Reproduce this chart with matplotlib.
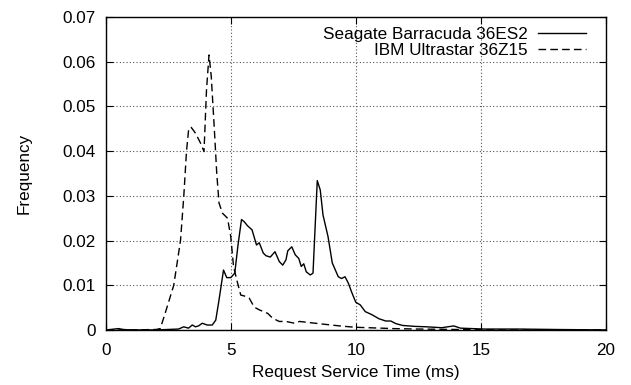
#!/usr/bin/env python3
"""Request service time distribution for two disk models."""

import matplotlib

matplotlib.use("Agg")
import matplotlib.pyplot as plt

SEAGATE_X = [
    0, 0.5, 0.7, 1.0, 2.0, 2.9, 3.11, 3.3, 3.45, 3.58, 3.7, 3.85, 4.05, 4.25,
    4.39, 4.52, 4.70, 4.83, 4.99, 5.15, 5.28, 5.42, 5.53, 5.66, 5.84, 6.02,
    6.13, 6.29, 6.40, 6.57, 6.76, 6.93, 7.07, 7.20, 7.27, 7.43, 7.57, 7.71,
    7.81, 7.91, 8.01, 8.17, 8.28, 8.45, 8.57, 8.68, 8.88, 9.05, 9.15, 9.29,
    9.42, 9.56, 9.69, 9.83, 9.99, 10.17, 10.37, 10.64, 10.92, 11.19, 11.39,
    11.60, 11.87, 12.35, 12.82, 13.43, 13.91, 14.18, 15.13, 16.5, 18, 20,
]
SEAGATE_Y = [
    0, 0.0003, 0.0001, 0, 0, 0.0002, 0.0007, 0.0004, 0.0011, 0.0007, 0.0009,
    0.0015, 0.0011, 0.0011, 0.0022, 0.0067, 0.0134, 0.0117, 0.0117, 0.0127,
    0.0190, 0.0247, 0.0242, 0.0233, 0.0224, 0.0190, 0.0195, 0.0172, 0.0166,
    0.0163, 0.0175, 0.0153, 0.0145, 0.0157, 0.0177, 0.0186, 0.0168, 0.0160,
    0.0142, 0.0148, 0.0130, 0.0123, 0.0127, 0.0334, 0.0313, 0.0257, 0.0209,
    0.0150, 0.0137, 0.0119, 0.0115, 0.0119, 0.0105, 0.0084, 0.0062, 0.0056,
    0.0041, 0.0034, 0.0025, 0.0020, 0.0020, 0.0014, 0.0010, 0.0008, 0.0007,
    0.0005, 0.0009, 0.0004, 0.0002, 0.0002, 0.0001, 0,
]

IBM_X = [
    0, 1.0, 2.0, 2.17, 2.37, 2.71, 2.98, 3.11, 3.22, 3.31, 3.41, 3.58, 3.78,
    3.92, 4.02, 4.12, 4.21, 4.32, 4.43, 4.52, 4.66, 4.86, 4.99, 5.10, 5.23,
    5.39, 5.53, 5.73, 5.93, 6.13, 6.47, 6.67, 6.93, 7.20, 7.54, 7.74, 8.21,
    8.68, 9.35, 9.95, 10.5, 11.5, 12.5, 14, 16, 20,
]
IBM_Y = [
    0, 0, 0.0001, 0.0003, 0.0038, 0.0100, 0.0200, 0.0298, 0.0400, 0.0451,
    0.0453, 0.0440, 0.0418, 0.0399, 0.0537, 0.0615, 0.0567, 0.0462, 0.0350,
    0.0284, 0.0261, 0.0250, 0.0209, 0.0142, 0.0112, 0.0078, 0.0076, 0.0071,
    0.0051, 0.0045, 0.0037, 0.0026, 0.0019, 0.0019, 0.0015, 0.0019, 0.0016,
    0.0013, 0.0009, 0.0006, 0.0005, 0.0003, 0.0002, 0.0001, 0, 0,
]

X_TICKS = [0, 5, 10, 15, 20]
Y_TICKS = [0, 0.01, 0.02, 0.03, 0.04, 0.05, 0.06, 0.07]

FONT_SIZE = 12.3


def main() -> None:
    plt.rcParams["font.family"] = ["Liberation Sans", "DejaVu Sans"]
    fig = plt.figure(figsize=(6.31, 3.85), dpi=100)
    ax = fig.add_axes([0.168, 0.143, 0.7924, 0.8129])

    ax.plot(SEAGATE_X, SEAGATE_Y, color="black", lw=1.0,
            label="Seagate Barracuda 36ES2")
    ax.plot(IBM_X, IBM_Y, color="black", lw=1.0, linestyle=(0, (5.5, 3)),
            label="IBM Ultrastar 36Z15")

    ax.set_xlim(0, 20)
    ax.set_ylim(0, 0.07)
    ax.set_xticks(X_TICKS)
    ax.set_yticks(Y_TICKS)
    ax.set_yticklabels(["0"] + [f"{v:.2f}" for v in Y_TICKS[1:]])
    ax.tick_params(direction="in", length=5, width=0.8, top=True, right=True,
                   labelsize=FONT_SIZE)
    ax.tick_params(axis="x", pad=9.5)
    ax.tick_params(axis="y", pad=7.5)
    ax.grid(True, linestyle=(0, (1, 2)), color="#555555", lw=0.8)
    for spine in ax.spines.values():
        spine.set_linewidth(1.0)

    ax.set_xlabel("Request Service Time (ms)", fontsize=FONT_SIZE, labelpad=5)
    ax.set_ylabel("Frequency", fontsize=FONT_SIZE, labelpad=22)

    ax.legend(loc="upper right", bbox_to_anchor=(0.98, 1.0), frameon=False,
              markerfirst=False, fontsize=FONT_SIZE, handlelength=2.8,
              borderaxespad=0.2, labelspacing=0.05, handletextpad=0.6)

    fig.savefig("out.png", dpi=100)
    plt.close(fig)


if __name__ == "__main__":
    main()
